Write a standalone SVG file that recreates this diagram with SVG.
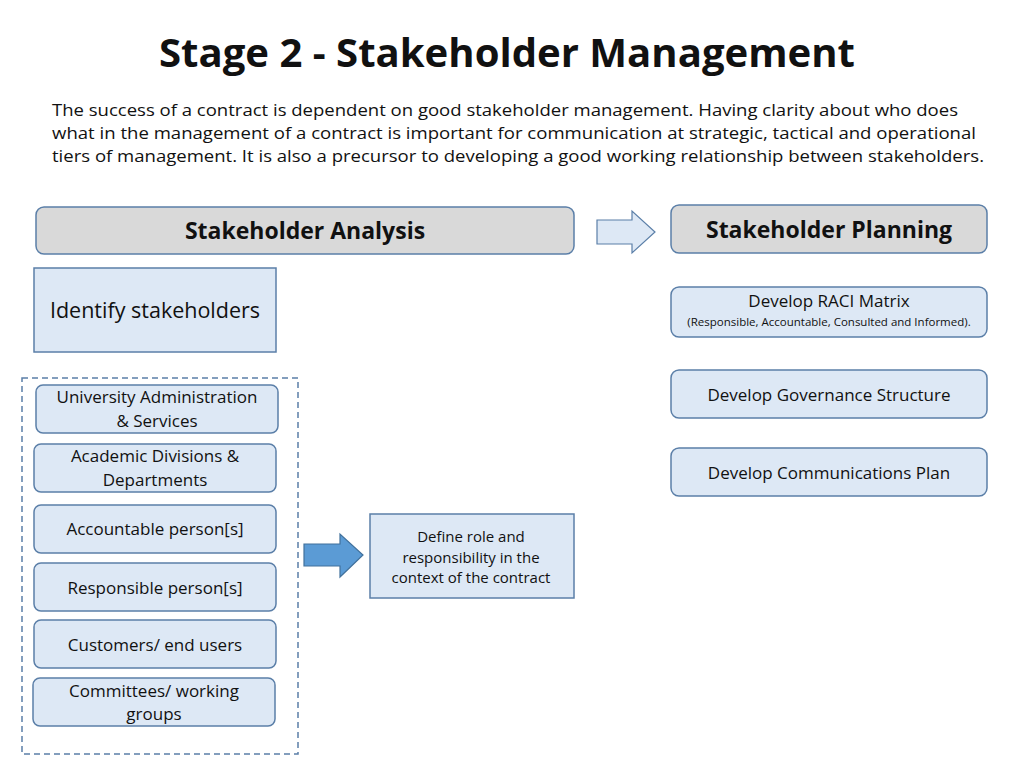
<svg xmlns="http://www.w3.org/2000/svg" width="1024" height="768" viewBox="0 0 1024 768">
<style>
text{font-family:"Open Sans","DejaVu Sans",sans-serif;fill:#111;text-anchor:middle}
.b{fill:#dde8f5;stroke:#5b7fa8;stroke-width:1.5}
.g{fill:#d9d9d9;stroke:#5b7fa8;stroke-width:1.5}
.t{font-size:17px}
.c{font-family:"Open Sans","DejaVu Sans",sans-serif;font-size:17px;text-anchor:start;fill:#111}
</style>
<rect width="1024" height="768" fill="#fff"/>
<text x="507" y="67" font-size="40" font-weight="bold" textLength="696" lengthAdjust="spacingAndGlyphs">Stage 2 - Stakeholder Management</text>
<text class="c" x="52" y="116" textLength="906" lengthAdjust="spacingAndGlyphs">The success of a contract is dependent on good stakeholder management. Having clarity about who does</text>
<text class="c" x="52" y="139" textLength="924" lengthAdjust="spacingAndGlyphs">what in the management of a contract is important for communication at strategic, tactical and operational</text>
<text class="c" x="52" y="162" textLength="932" lengthAdjust="spacingAndGlyphs">tiers of management. It is also a precursor to developing a good working relationship between stakeholders.</text>
<g id="analysis"><rect class="g" x="36" y="207" width="538" height="47" rx="8"/><text x="305" y="239" font-size="23" font-weight="bold">Stakeholder Analysis</text></g>
<g id="planning"><rect class="g" x="671" y="205" width="316" height="48" rx="8"/><text x="829" y="238" font-size="23" font-weight="bold">Stakeholder Planning</text></g>
<g id="identify"><rect class="b" x="34" y="268" width="242" height="84"/><text x="155" y="318" font-size="21.5">Identify stakeholders</text></g>
<rect x="22" y="378" width="276" height="376" fill="none" stroke="#5b7fa8" stroke-width="1.5" stroke-dasharray="6,4"/>
<g id="n1"><rect class="b" x="36" y="385" width="242" height="48" rx="7"/><text class="t" x="157" y="403">University Administration</text><text class="t" x="157" y="427">&amp; Services</text></g>
<g id="n2"><rect class="b" x="34" y="444" width="242" height="48" rx="7"/><text class="t" x="155" y="462">Academic Divisions &amp;</text><text class="t" x="155" y="486">Departments</text></g>
<g id="n3"><rect class="b" x="34" y="505" width="242" height="48" rx="7"/><text class="t" x="155" y="535">Accountable person[s]</text></g>
<g id="n4"><rect class="b" x="34" y="563" width="242" height="48" rx="7"/><text class="t" x="155" y="594">Responsible person[s]</text></g>
<g id="n5"><rect class="b" x="34" y="620" width="242" height="48" rx="7"/><text class="t" x="155" y="651">Customers/ end users</text></g>
<g id="n6"><rect class="b" x="33" y="678" width="242" height="48" rx="7"/><text class="t" x="154" y="697">Committees/ working</text><text class="t" x="154" y="720">groups</text></g>
<g id="define"><rect class="b" x="370" y="514" width="204" height="84"/><text x="471" y="542" font-size="15">Define role and</text><text x="471" y="563" font-size="15">responsibility in the</text><text x="471" y="583" font-size="15">context of the contract</text></g>
<g id="raci"><rect class="b" x="671" y="287" width="316" height="50" rx="8"/><text x="829" y="307" font-size="17">Develop RACI Matrix</text><text x="829" y="326" font-size="11.5">(Responsible, Accountable, Consulted and Informed).</text></g>
<g id="gov"><rect class="b" x="671" y="370" width="316" height="48" rx="8"/><text class="t" x="829" y="401">Develop Governance Structure</text></g>
<g id="comm"><rect class="b" x="671" y="448" width="316" height="48" rx="8"/><text class="t" x="829" y="479">Develop Communications Plan</text></g>
<g id="connectors">
<polygon points="597,220 632,220 632,211 655,232 632,253 632,244 597,244" fill="#dde8f5" stroke="#5b7fa8" stroke-width="1.2"/>
<polygon points="304,544 340,544 340,534 363,555 340,577 340,566 304,566" fill="#5b9bd5" stroke="#41719c" stroke-width="1.2"/>
</g>
</svg>
